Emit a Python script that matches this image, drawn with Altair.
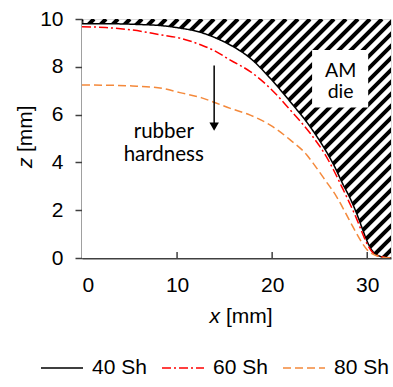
import altair as alt
import pandas as pd
import numpy as np

# ---- data ----
x40 = [0, 3, 6, 8.4, 10.3, 12.4, 13.8, 15.6, 17.7, 19.8, 21.9, 24.0, 25.7, 26.6, 27.4, 28.2, 29.0, 29.6, 30.1, 30.6, 31.3, 32.1, 32.5]
z40 = [9.8, 9.8, 9.77, 9.72, 9.62, 9.45, 9.25, 8.91, 8.36, 7.52, 6.54, 5.49, 4.45, 3.8, 3.12, 2.5, 1.75, 1.1, 0.6, 0.27, 0.08, 0.02, 0.0]

x60 = [0, 2.5, 5.3, 8.4, 10.3, 12.6, 13.8, 15.6, 17.7, 19.8, 21.9, 24.0, 25.7, 26.5, 27.3, 28.0, 28.8, 29.45, 30.0, 30.6, 31.5, 32.5]
z60 = [9.68, 9.64, 9.54, 9.33, 9.2, 8.9, 8.7, 8.28, 7.8, 7.1, 6.19, 5.22, 4.24, 3.65, 3.0, 2.42, 1.72, 1.08, 0.58, 0.22, 0.05, 0.0]

x80 = [0, 2.5, 5.3, 8.4, 10.3, 12.6, 13.8, 15.6, 17.7, 19.8, 21.9, 23.65, 24.3, 25.5, 26.8, 27.7, 28.5, 29.2, 30.0, 30.7, 31.4, 32.5]
z80 = [7.24, 7.23, 7.2, 7.1, 6.92, 6.7, 6.53, 6.26, 5.98, 5.56, 4.94, 4.31, 3.97, 3.3, 2.55, 1.9, 1.3, 0.8, 0.34, 0.14, 0.05, 0.0]

series = ["40 Sh", "60 Sh", "80 Sh"]
colors = ["#000000", "#FF0000", "#F4893B"]
dashes = [[1, 0], [9, 3, 2, 3], [8, 4]]

x_ticks = [0, 10, 20, 30]
y_ticks = [0, 2, 4, 6, 8, 10]

X_MAX = 32.5
Z_MAX = 10
W, H = 309, 239

rows = []
for name, xs, zs in [("40 Sh", x40, z40), ("60 Sh", x60, z60), ("80 Sh", x80, z80)]:
    for i, (a, b) in enumerate(zip(xs, zs)):
        rows.append({"series": name, "x": a, "z": b, "order": i})
lines_df = pd.DataFrame(rows)

# mask under the die contour (40 Sh curve)
mask_df = pd.DataFrame({"x": x40, "z": z40})

# hatch stripes of the AM die (45 degrees in screen space)
px_x = W / X_MAX
px_y = H / Z_MAX
run = Z_MAX * px_y / px_x
step = 12 / px_x
x0s = np.arange(-run - step, X_MAX + step, step)
stripes_df = pd.DataFrame({"x": x0s, "z": 0.0, "x2": x0s + run, "z2": float(Z_MAX)})

xs = alt.Scale(domain=[0, X_MAX], nice=False, zero=False)
ys = alt.Scale(domain=[0, Z_MAX], nice=False, zero=False)

FONT = "Liberation Sans"

axis_x = alt.Axis(values=x_ticks, title=None, ticks=False, labelPadding=16, grid=False,
                  domainColor="#404040", domainWidth=2, labelFont=FONT,
                  labelFontSize=21, labelColor="#000000")
axis_y = alt.Axis(values=y_ticks, title=None, tickSize=7, tickColor="#404040", tickWidth=1.5,
                  labelPadding=12, grid=False, domainColor="#404040", domainWidth=2,
                  labelFont=FONT, labelFontSize=21, labelColor="#000000")

stripes = alt.Chart(stripes_df).mark_rule(color="black", strokeWidth=4, clip=True).encode(
    x=alt.X("x:Q", scale=xs, axis=axis_x),
    y=alt.Y("z:Q", scale=ys, axis=axis_y),
    x2="x2:Q", y2="z2:Q")

mask = alt.Chart(mask_df).mark_area(color="white", opacity=1, clip=True,
                                    interpolate="monotone").encode(
    x=alt.X("x:Q", scale=xs), y=alt.Y("z:Q", scale=ys), y2=alt.datum(0))

# AM die label box
box_df = pd.DataFrame({"x": [24.2], "x2": [30.1], "z": [6.3], "z2": [8.7]})
box = alt.Chart(box_df).mark_rect(color="white").encode(
    x=alt.X("x:Q", scale=xs), x2="x2:Q", y=alt.Y("z:Q", scale=ys), y2="z2:Q")

leg = alt.Legend(title=None, orient="none", direction="horizontal",
                 legendX=-42, legendY=327, symbolType="stroke",
                 symbolSize=1764, symbolStrokeWidth=1.5,
                 labelFont=FONT, labelFontSize=21,
                 labelColor="#000000", labelOffset=8,
                 columnPadding=12)

lines = alt.Chart(lines_df).mark_line(strokeWidth=1.5, clip=True, interpolate="monotone").encode(
    x=alt.X("x:Q", scale=xs),
    y=alt.Y("z:Q", scale=ys),
    order="order:Q",
    color=alt.Color("series:N", scale=alt.Scale(domain=series, range=colors), legend=leg),
    strokeDash=alt.StrokeDash("series:N", scale=alt.Scale(domain=series, range=dashes), legend=leg))

# x ticks pointing inward
xt_df = pd.DataFrame({"x": x_ticks[1:]})
xticks = alt.Chart(xt_df).mark_rule(color="#404040", strokeWidth=1.5).encode(
    x=alt.X("x:Q", scale=xs), y=alt.value(H), y2=alt.value(H - 6))

# arrow
arrow_df = pd.DataFrame({"x": [13.9], "z": [8.05], "z2": [5.5]})
arrow = alt.Chart(arrow_df).mark_rule(color="black", strokeWidth=1.5).encode(
    x=alt.X("x:Q", scale=xs), y=alt.Y("z:Q", scale=ys), y2="z2:Q")
head_df = pd.DataFrame({"x": [13.9], "z": [5.5]})
head = alt.Chart(head_df).mark_point(shape="triangle-down", filled=True, color="black",
                                     size=90, opacity=1).encode(
    x=alt.X("x:Q", scale=xs), y=alt.Y("z:Q", scale=ys))

ann_df = pd.DataFrame({"x": [8.6, 8.6], "z": [5.27, 4.3], "t": ["rubber", "hardness"]})
ann = alt.Chart(ann_df).mark_text(font="Lato", fontSize=20.5, color="black",
                                  align="center", baseline="middle").encode(
    x=alt.X("x:Q", scale=xs), y=alt.Y("z:Q", scale=ys), text="t:N")
die_df = pd.DataFrame({"x": [27.2, 27.2], "z": [7.82, 6.95], "t": ["AM", "die"]})
die = alt.Chart(die_df).mark_text(font="Lato", fontSize=19.5, color="black",
                                  align="center", baseline="middle").encode(
    x=alt.X("x:Q", scale=xs), y=alt.Y("z:Q", scale=ys), text="t:N")

# axis titles (italic variable, upright unit)
xt1 = alt.Chart(pd.DataFrame({"t": ["x"]})).mark_text(
    font=FONT, fontSize=21, fontStyle="italic", align="right",
    baseline="alphabetic", color="black").encode(x=alt.value(138), y=alt.value(304), text="t:N")
xt2 = alt.Chart(pd.DataFrame({"t": ["[mm]"]})).mark_text(
    font=FONT, fontSize=21, align="left",
    baseline="alphabetic", color="black").encode(x=alt.value(144), y=alt.value(304), text="t:N")
yt1 = alt.Chart(pd.DataFrame({"t": ["z"]})).mark_text(
    font=FONT, fontSize=21, fontStyle="italic", align="left", angle=270,
    baseline="alphabetic", color="black").encode(x=alt.value(-50), y=alt.value(149), text="t:N")
yt2 = alt.Chart(pd.DataFrame({"t": ["[mm]"]})).mark_text(
    font=FONT, fontSize=21, align="left", angle=270,
    baseline="alphabetic", color="black").encode(x=alt.value(-50), y=alt.value(133), text="t:N")

chart = alt.layer(stripes, mask, box, lines, xticks, arrow, head, ann, die, xt1, xt2, yt1, yt2).properties(
    width=W, height=H,
    autosize=alt.AutoSizeParams(type="none"),
    padding={"left": 82, "top": 19, "right": 2, "bottom": 129},
).configure_view(stroke=None).configure(background="white")

chart.save("out.html", embed_options={"renderer": "svg", "actions": False})
